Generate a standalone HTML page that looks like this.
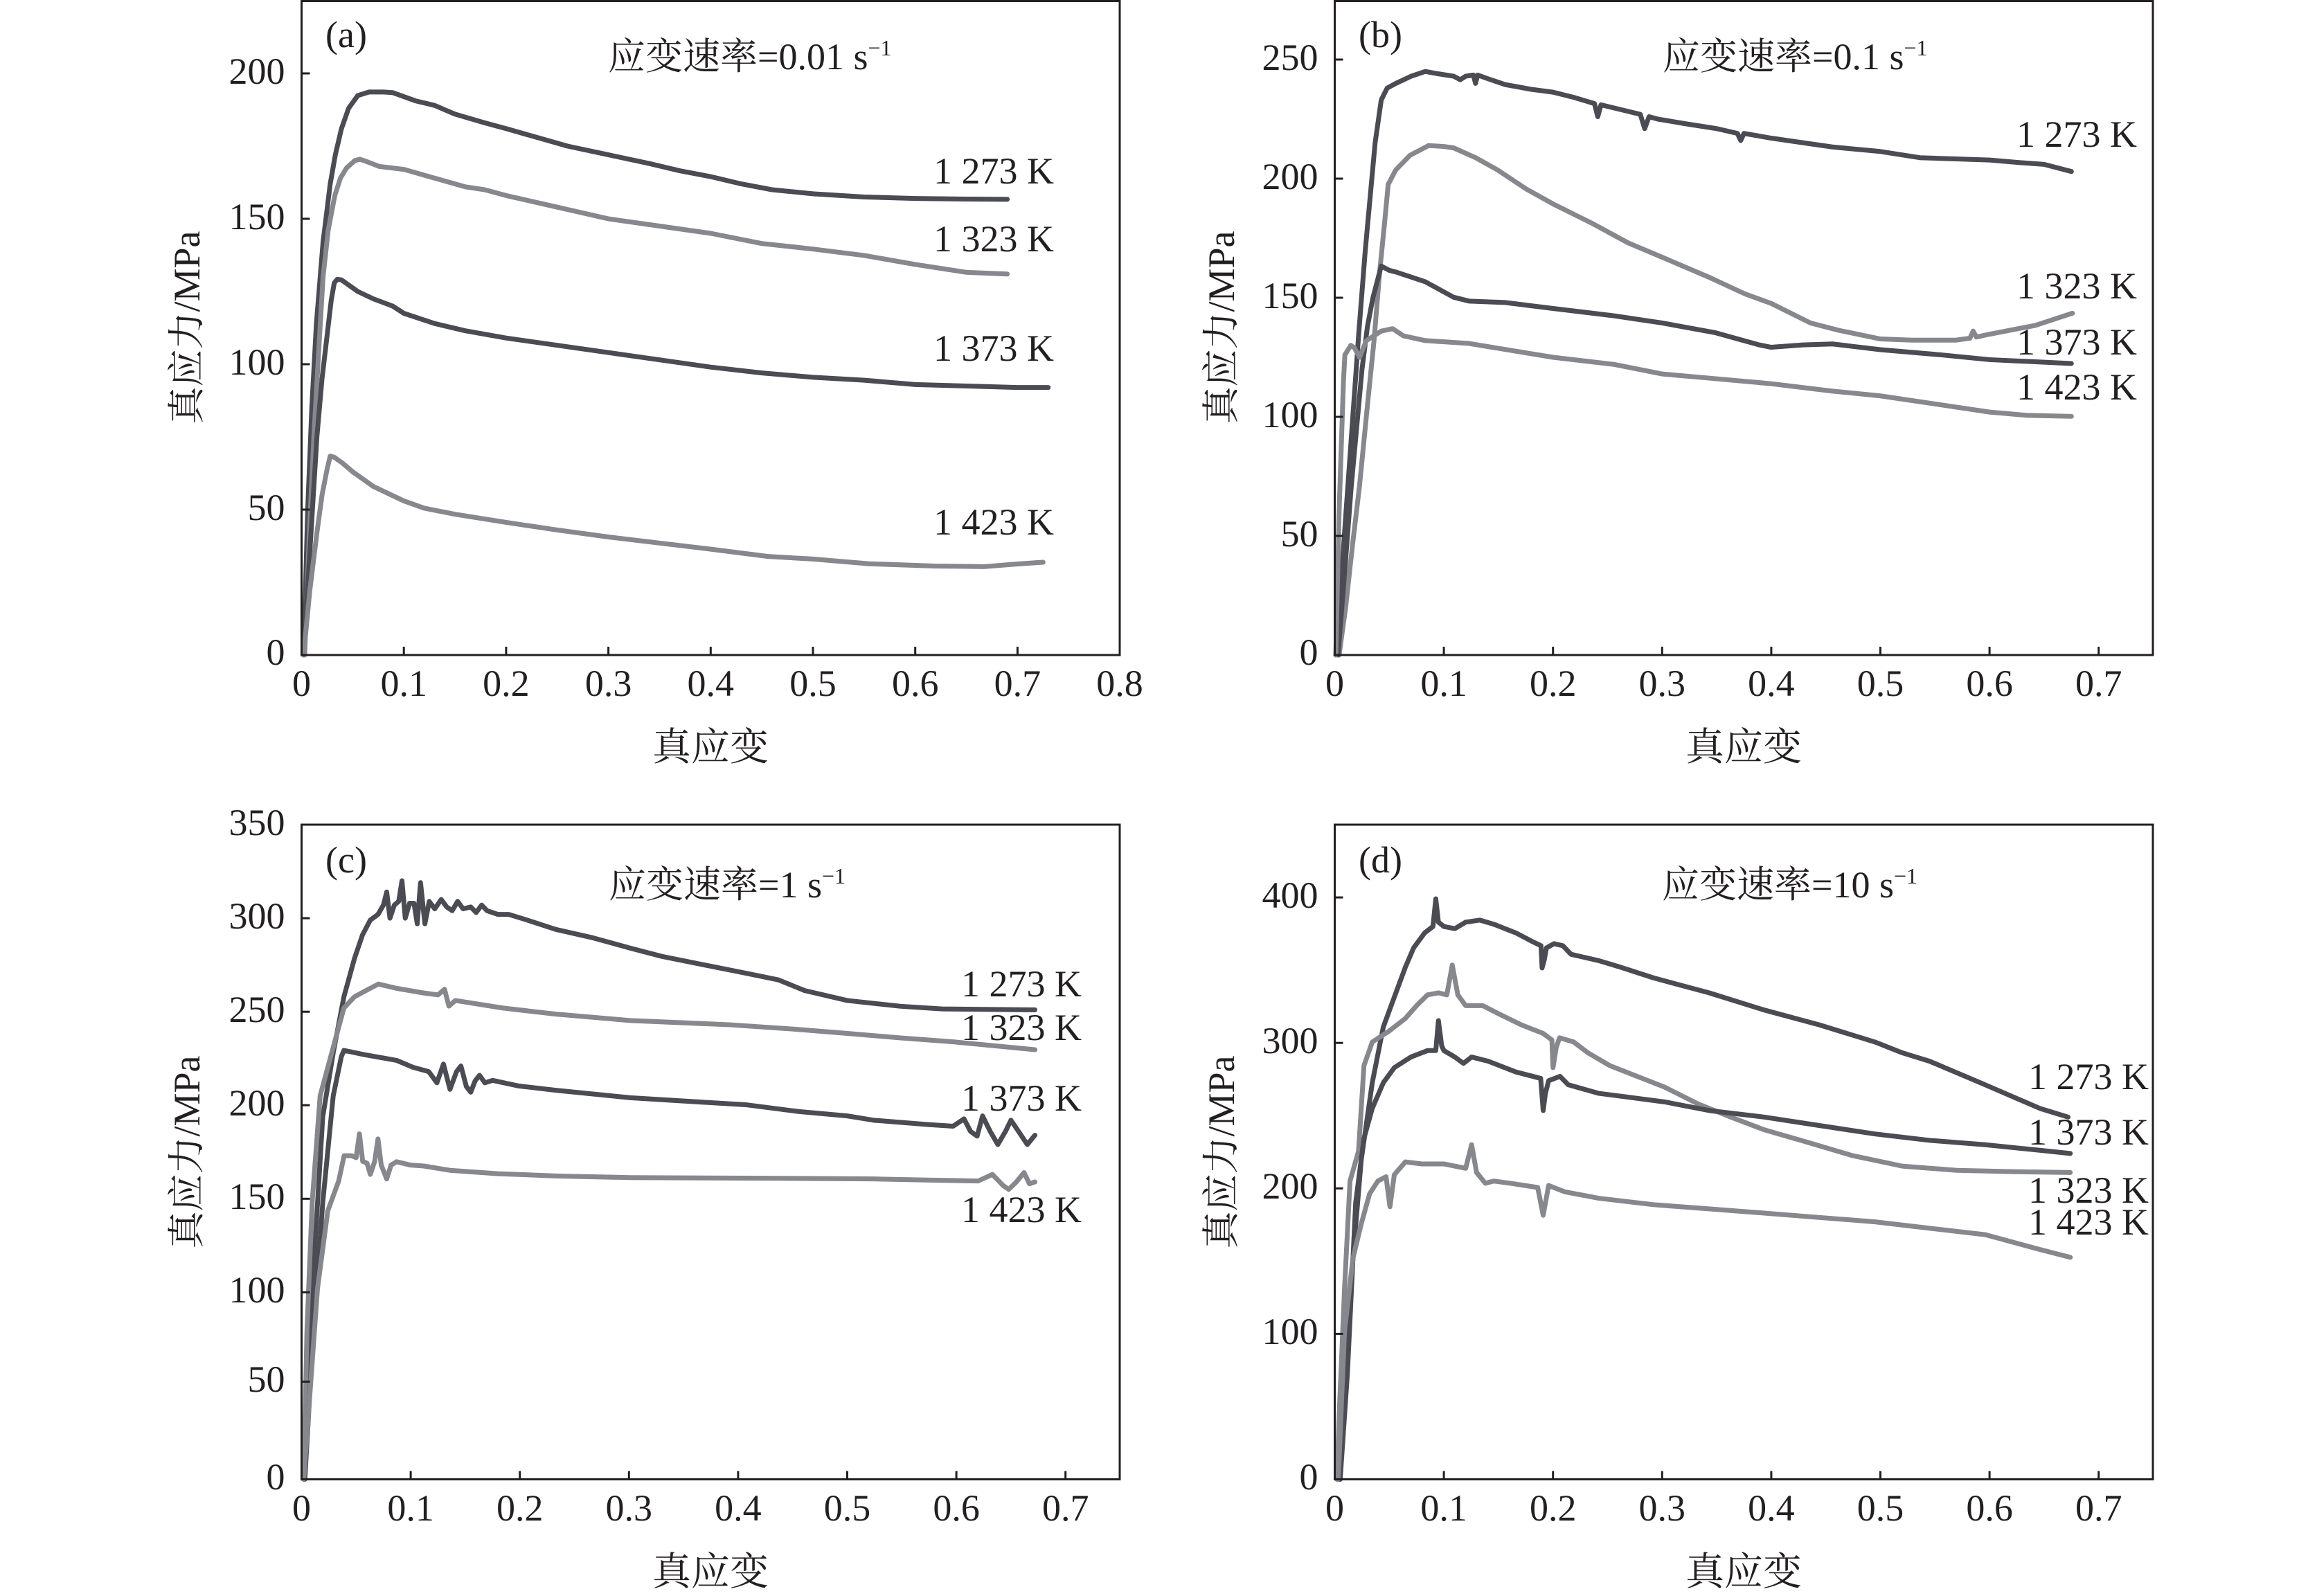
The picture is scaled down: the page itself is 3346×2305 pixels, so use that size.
<!DOCTYPE html>
<html>
<head>
<meta charset="utf-8">
<style>
  html, body { margin: 0; padding: 0; background: #ffffff; }
  svg { display: block; }
  text { font-family: "Liberation Serif", "Noto Serif CJK SC", serif; fill: #231f20; }
  .tk { font-size: 54px; }
  .ax { stroke: #231f20; stroke-width: 3; fill: none; }
  .tick { stroke: #231f20; stroke-width: 3; }
  .dk { fill: none; stroke: #4b4b53; stroke-width: 7; stroke-linejoin: round; stroke-linecap: round; vector-effect: non-scaling-stroke; }
  .lt { fill: none; stroke: #86888d; stroke-width: 7; stroke-linejoin: round; stroke-linecap: round; vector-effect: non-scaling-stroke; }
</style>
</head>
<body>
<svg width="3346" height="2305" viewBox="0 0 3346 2305" xmlns="http://www.w3.org/2000/svg">
<rect x="0" y="0" width="3346" height="2305" fill="#ffffff"/>

<!-- ================= PANEL (a) ================= -->
<g transform="translate(435.5,946) scale(1477,-4.2)">
  <polyline class="dk" points="0.002,0 0.006,50 0.010,85 0.0145,114 0.021,142 0.028,162 0.033,172 0.039,181 0.046,188 0.055,192.4 0.066,193.6 0.08,193.6 0.089,193.4 0.1,192 0.112,190.5 0.13,189 0.15,186 0.179,183 0.2,181 0.23,178 0.26,175 0.3,172 0.34,169 0.37,166.5 0.4,164.5 0.43,162 0.46,160 0.5,158.6 0.55,157.5 0.6,157 0.65,156.8 0.69,156.7"/>
  <polyline class="lt" points="0.003,0 0.008,45 0.012,75 0.017,106 0.021,130 0.026,146 0.0325,158 0.038,164 0.044,167.5 0.052,170 0.057,170.5 0.065,169.5 0.076,168 0.1,167 0.13,164 0.16,161 0.179,160 0.2,158 0.25,154 0.3,150 0.35,147.5 0.4,145 0.45,141.5 0.5,139.6 0.55,137.4 0.6,134.3 0.65,131.6 0.69,131"/>
  <polyline class="dk" points="0.002,0 0.008,35 0.015,75 0.02,95 0.025,110 0.029,122 0.032,128 0.035,129.2 0.039,129 0.047,127 0.055,125 0.07,122.5 0.089,120 0.1,117.5 0.13,114 0.16,111.5 0.2,109 0.25,106.5 0.3,104 0.35,101.5 0.4,99 0.45,97 0.5,95.5 0.55,94.5 0.6,93 0.65,92.5 0.7,92 0.73,92"/>
  <polyline class="lt" points="0.002,0 0.008,22 0.015,42 0.02,55 0.025,64 0.028,68.4 0.032,68 0.04,66 0.05,63 0.07,58 0.1,53 0.12,50.5 0.15,48.4 0.2,45.6 0.25,43 0.3,40.6 0.35,38.5 0.4,36.4 0.456,33.9 0.5,33 0.554,31.4 0.619,30.6 0.668,30.4 0.7,31.3 0.725,31.9"/>
</g>
<rect class="ax" x="435.5" y="1.5" width="1181.5" height="944.5"/>
<line class="tick" x1="583.2" y1="946" x2="583.2" y2="934"/>
<line class="tick" x1="730.9" y1="946" x2="730.9" y2="934"/>
<line class="tick" x1="878.6" y1="946" x2="878.6" y2="934"/>
<line class="tick" x1="1026.3" y1="946" x2="1026.3" y2="934"/>
<line class="tick" x1="1174" y1="946" x2="1174" y2="934"/>
<line class="tick" x1="1321.7" y1="946" x2="1321.7" y2="934"/>
<line class="tick" x1="1469.4" y1="946" x2="1469.4" y2="934"/>
<line class="tick" x1="435.5" y1="736" x2="447.5" y2="736"/>
<line class="tick" x1="435.5" y1="526" x2="447.5" y2="526"/>
<line class="tick" x1="435.5" y1="316" x2="447.5" y2="316"/>
<line class="tick" x1="435.5" y1="106" x2="447.5" y2="106"/>
<g class="tk" text-anchor="end">
  <text x="411.5" y="960">0</text>
  <text x="411.5" y="751">50</text>
  <text x="411.5" y="541">100</text>
  <text x="411.5" y="331">150</text>
  <text x="411.5" y="121">200</text>
</g>
<g class="tk" text-anchor="middle">
  <text x="435.5" y="1005">0</text>
  <text x="583.2" y="1005">0.1</text>
  <text x="730.9" y="1005">0.2</text>
  <text x="878.6" y="1005">0.3</text>
  <text x="1026.3" y="1005">0.4</text>
  <text x="1174" y="1005">0.5</text>
  <text x="1321.7" y="1005">0.6</text>
  <text x="1469.4" y="1005">0.7</text>
  <text x="1617" y="1005">0.8</text>
</g>
<text class="tk" x="470" y="68">(a)</text>
<text class="tk" x="878" y="100">应变速率=0.01 s<tspan font-size="32" dy="-20">−1</tspan></text>
<g class="tk">
  <text x="1348" y="265">1 273 K</text>
  <text x="1348" y="363">1 323 K</text>
  <text x="1348" y="521">1 373 K</text>
  <text x="1348" y="772">1 423 K</text>
</g>
<text class="tk" transform="translate(288,473) rotate(-90)" text-anchor="middle">真应力/MPa</text>
<text x="1026" y="1098" font-size="56" text-anchor="middle">真应变</text>

<!-- ================= PANEL (b) ================= -->
<g transform="translate(1927.5,946) scale(1576,-3.44)">
  <polyline class="dk" points="0.001,0 0.008,45 0.015,90 0.022,135 0.028,170 0.0326,193 0.037,215 0.0426,233 0.048,238 0.056,240 0.07,243 0.083,245 0.095,244 0.109,243 0.115,241.5 0.12,243 0.127,243.5 0.129,240 0.131,243.5 0.14,242 0.156,239.5 0.18,237.5 0.2,236.3 0.22,234 0.238,231.5 0.241,226 0.244,231 0.262,229 0.28,227 0.284,221 0.288,226 0.296,225 0.322,223 0.35,221 0.369,219 0.372,216 0.375,219 0.4,217 0.43,215 0.456,213.3 0.5,211.4 0.536,208.8 0.6,207.8 0.629,206.7 0.65,206 0.675,203"/>
  <polyline class="lt" points="0.004,0 0.01,20 0.016,45 0.0227,71 0.03,105 0.036,132 0.041,160 0.046,183 0.049,197.6 0.056,203.7 0.069,209.8 0.086,213.9 0.1,213.5 0.109,212.9 0.129,208.8 0.149,203.7 0.176,195.5 0.2,189.4 0.236,181.2 0.269,173 0.3,167 0.342,158.8 0.376,151.6 0.4,147.6 0.436,139.4 0.462,136.3 0.5,132.7 0.529,132.2 0.569,132.2 0.582,133 0.585,136 0.588,133.5 0.6,134.7 0.642,138.4 0.676,143.5"/>
  <polyline class="dk" points="0.003,0 0.01,40 0.015,70 0.02,95 0.025,120 0.03,138 0.035,150 0.0426,163.3 0.05,161.5 0.056,160.8 0.083,156.7 0.109,150.2 0.123,148.6 0.156,148 0.2,145.5 0.256,142.4 0.3,139.4 0.349,135.3 0.389,130.2 0.4,129.2 0.429,130.2 0.456,130.6 0.5,128.2 0.556,126 0.6,124 0.675,122.4"/>
  <polyline class="lt" points="0.001,0 0.004,60 0.008,115 0.0093,126 0.0147,130 0.018,129 0.0227,125 0.029,132 0.0426,136 0.053,137 0.063,134 0.083,132 0.123,130.8 0.2,125 0.256,122 0.3,118 0.342,116.3 0.4,113.9 0.456,110.8 0.5,108.8 0.556,105 0.6,102 0.635,100.6 0.675,100.2"/>
</g>
<rect class="ax" x="1927.5" y="1.5" width="1181.5" height="944.5"/>
<line class="tick" x1="2085.1" y1="946" x2="2085.1" y2="934"/>
<line class="tick" x1="2242.7" y1="946" x2="2242.7" y2="934"/>
<line class="tick" x1="2400.3" y1="946" x2="2400.3" y2="934"/>
<line class="tick" x1="2557.9" y1="946" x2="2557.9" y2="934"/>
<line class="tick" x1="2715.5" y1="946" x2="2715.5" y2="934"/>
<line class="tick" x1="2873.1" y1="946" x2="2873.1" y2="934"/>
<line class="tick" x1="3030.7" y1="946" x2="3030.7" y2="934"/>
<line class="tick" x1="1927.5" y1="774" x2="1939.5" y2="774"/>
<line class="tick" x1="1927.5" y1="602" x2="1939.5" y2="602"/>
<line class="tick" x1="1927.5" y1="430" x2="1939.5" y2="430"/>
<line class="tick" x1="1927.5" y1="258" x2="1939.5" y2="258"/>
<line class="tick" x1="1927.5" y1="86" x2="1939.5" y2="86"/>
<g class="tk" text-anchor="end">
  <text x="1903.5" y="960">0</text>
  <text x="1903.5" y="789">50</text>
  <text x="1903.5" y="617">100</text>
  <text x="1903.5" y="445">150</text>
  <text x="1903.5" y="273">200</text>
  <text x="1903.5" y="101">250</text>
</g>
<g class="tk" text-anchor="middle">
  <text x="1927.5" y="1005">0</text>
  <text x="2085.1" y="1005">0.1</text>
  <text x="2242.7" y="1005">0.2</text>
  <text x="2400.3" y="1005">0.3</text>
  <text x="2557.9" y="1005">0.4</text>
  <text x="2715.5" y="1005">0.5</text>
  <text x="2873.1" y="1005">0.6</text>
  <text x="3030.7" y="1005">0.7</text>
</g>
<text class="tk" x="1962" y="68">(b)</text>
<text class="tk" x="2401" y="100">应变速率=0.1 s<tspan font-size="32" dy="-20">−1</tspan></text>
<g class="tk">
  <text x="2912" y="212">1 273 K</text>
  <text x="2912" y="431">1 323 K</text>
  <text x="2912" y="512">1 373 K</text>
  <text x="2912" y="577">1 423 K</text>
</g>
<text class="tk" transform="translate(1782,473) rotate(-90)" text-anchor="middle">真应力/MPa</text>
<text x="2518" y="1098" font-size="56" text-anchor="middle">真应变</text>

<!-- ================= PANEL (c) ================= -->
<g transform="translate(435.5,2136.5) scale(1576,-2.7014)">
  <polyline class="dk" points="0.002,0 0.0097,100 0.0194,193.8 0.029,228 0.0388,258 0.0485,278.5 0.0558,291 0.063,299 0.07,302 0.075,307 0.078,314 0.081,300 0.085,307 0.089,309 0.092,320 0.095,300 0.099,308 0.103,308 0.106,297 0.109,319 0.113,297 0.117,309 0.122,305 0.128,310 0.133,306 0.138,304 0.143,309 0.148,305 0.155,306 0.16,303 0.165,307 0.17,304 0.18,302 0.19,302 0.204,299.5 0.233,294 0.267,289.5 0.301,284 0.33,279.6 0.369,275 0.408,270.5 0.437,267 0.461,261.3 0.5,256 0.549,252.9 0.587,251.5 0.672,251"/>
  <polyline class="lt" points="0.002,0 0.0049,79 0.0097,148 0.017,205 0.0267,226 0.0388,252 0.0485,258 0.058,261 0.0704,264.8 0.087,262.5 0.112,260 0.125,259 0.131,262 0.135,253 0.141,256 0.184,252 0.233,248.7 0.301,245.3 0.393,243 0.451,240.7 0.5,238.4 0.549,236 0.597,233.9 0.672,229.7"/>
  <polyline class="dk" points="0.003,0 0.0097,68 0.0194,148 0.029,205 0.0364,225.9 0.0388,229.3 0.058,227 0.087,224 0.102,220.3 0.1165,218 0.124,212 0.13,222 0.136,208.5 0.142,218 0.146,221 0.151,210 0.155,207 0.159,213 0.163,216 0.168,212 0.175,213.3 0.199,210.3 0.233,208 0.301,204 0.408,200.2 0.456,196.6 0.5,194.3 0.524,192 0.573,189.7 0.597,188.8 0.607,192.7 0.613,186 0.619,183.5 0.624,194.3 0.631,186 0.638,179 0.645,186 0.65,192 0.657,186 0.665,179 0.672,184"/>
  <polyline class="lt" points="0.002,0 0.0146,102 0.024,143.5 0.034,159.5 0.039,173 0.046,173 0.05,172 0.053,184.7 0.056,170 0.06,169 0.063,163 0.067,170 0.07,182 0.073,168 0.078,160.6 0.082,168 0.087,169.8 0.1,168 0.112,167.5 0.136,165.2 0.18,163.4 0.233,162.2 0.301,161.3 0.427,161 0.524,160.6 0.573,160 0.62,159.5 0.633,163 0.643,157 0.648,155 0.655,159 0.662,164 0.667,158 0.672,159"/>
</g>
<rect class="ax" x="435.5" y="1191" width="1181.5" height="945.5"/>
<line class="tick" x1="593.1" y1="2136.5" x2="593.1" y2="2124.5"/>
<line class="tick" x1="750.7" y1="2136.5" x2="750.7" y2="2124.5"/>
<line class="tick" x1="908.3" y1="2136.5" x2="908.3" y2="2124.5"/>
<line class="tick" x1="1065.9" y1="2136.5" x2="1065.9" y2="2124.5"/>
<line class="tick" x1="1223.5" y1="2136.5" x2="1223.5" y2="2124.5"/>
<line class="tick" x1="1381.1" y1="2136.5" x2="1381.1" y2="2124.5"/>
<line class="tick" x1="1538.7" y1="2136.5" x2="1538.7" y2="2124.5"/>
<line class="tick" x1="435.5" y1="1995.4" x2="447.5" y2="1995.4"/>
<line class="tick" x1="435.5" y1="1866.4" x2="447.5" y2="1866.4"/>
<line class="tick" x1="435.5" y1="1731.3" x2="447.5" y2="1731.3"/>
<line class="tick" x1="435.5" y1="1596.2" x2="447.5" y2="1596.2"/>
<line class="tick" x1="435.5" y1="1461.2" x2="447.5" y2="1461.2"/>
<line class="tick" x1="435.5" y1="1326.1" x2="447.5" y2="1326.1"/>
<g class="tk" text-anchor="end">
  <text x="411.5" y="2151">0</text>
  <text x="411.5" y="2010">50</text>
  <text x="411.5" y="1881">100</text>
  <text x="411.5" y="1746">150</text>
  <text x="411.5" y="1611">200</text>
  <text x="411.5" y="1476">250</text>
  <text x="411.5" y="1341">300</text>
  <text x="411.5" y="1206">350</text>
</g>
<g class="tk" text-anchor="middle">
  <text x="435.5" y="2196">0</text>
  <text x="593.1" y="2196">0.1</text>
  <text x="750.7" y="2196">0.2</text>
  <text x="908.3" y="2196">0.3</text>
  <text x="1065.9" y="2196">0.4</text>
  <text x="1223.5" y="2196">0.5</text>
  <text x="1381.1" y="2196">0.6</text>
  <text x="1538.7" y="2196">0.7</text>
</g>
<text class="tk" x="470" y="1260">(c)</text>
<text class="tk" x="879" y="1296">应变速率=1 s<tspan font-size="32" dy="-20">−1</tspan></text>
<g class="tk">
  <text x="1388" y="1439">1 273 K</text>
  <text x="1388" y="1502">1 323 K</text>
  <text x="1388" y="1604">1 373 K</text>
  <text x="1388" y="1765">1 423 K</text>
</g>
<text class="tk" transform="translate(288,1664) rotate(-90)" text-anchor="middle">真应力/MPa</text>
<text x="1026" y="2289" font-size="56" text-anchor="middle">真应变</text>

<!-- ================= PANEL (d) ================= -->
<g transform="translate(1927.5,2136.5) scale(1576,-2.1011)">
  <polyline class="dk" points="0.004,0 0.0091,55 0.0167,152 0.0243,219.7 0.0344,272.6 0.0445,310.9 0.0546,331.5 0.0647,352 0.0723,365.3 0.0824,375.6 0.09,380 0.0926,399 0.095,383 0.1,380 0.11,378.5 0.12,383 0.133,384.4 0.146,381.5 0.166,375.6 0.181,369.7 0.189,366.8 0.19,351.5 0.192,357 0.194,365.3 0.201,368.2 0.209,366.8 0.2165,360.9 0.242,356.5 0.262,352 0.292,344.7 0.343,334.4 0.3935,322.6 0.444,312.4 0.495,300.6 0.52,293.2 0.545,287.4 0.596,271.2 0.646,255 0.672,249"/>
  <polyline class="lt" points="0.002,0 0.004,43 0.009,131.5 0.014,205 0.0218,225.6 0.0268,284.4 0.0344,300.6 0.0496,308 0.0647,316.8 0.075,325.6 0.085,333 0.095,334.4 0.1027,333 0.1077,353.5 0.1128,333 0.12,325.6 0.1356,325.6 0.151,319.7 0.171,312.4 0.191,306.5 0.199,302 0.2,283 0.203,297 0.206,303.5 0.219,300.6 0.232,293.2 0.252,284.4 0.272,278.5 0.302,269.7 0.333,258 0.363,249 0.3935,240.3 0.434,231.5 0.474,222.6 0.52,215.3 0.57,212.4 0.621,211.5 0.674,210.9"/>
  <polyline class="dk" points="0.005,0 0.0116,72.6 0.0192,190.3 0.0268,234.4 0.0344,255 0.0445,272.6 0.0546,283 0.0698,290.3 0.085,294.7 0.0926,294.7 0.095,315.3 0.098,298 0.1,294.7 0.11,290.3 0.118,285.9 0.1254,290.3 0.1406,287.4 0.166,280 0.1887,275.6 0.191,253.5 0.193,265 0.196,274 0.2064,277 0.214,271.2 0.242,265.3 0.272,262.4 0.3025,259.4 0.343,253.5 0.3935,249 0.444,243.2 0.495,237.4 0.545,233 0.596,230 0.646,226.2 0.674,224"/>
  <polyline class="lt" points="0.003,0 0.004,13.8 0.009,102 0.0167,152 0.0243,175.6 0.0319,196.2 0.0395,205 0.047,208 0.0506,187.4 0.0546,209.4 0.0647,218.2 0.08,216.8 0.1,216.8 0.12,213.8 0.1254,230 0.13,210.9 0.138,203.5 0.1457,205 0.161,203.5 0.186,200.6 0.191,181.5 0.196,202 0.211,197.6 0.242,193.2 0.292,188.8 0.343,185.9 0.3935,183 0.444,180 0.495,177 0.545,172.6 0.596,168.2 0.646,158 0.674,152.6"/>
</g>
<rect class="ax" x="1927.5" y="1191" width="1181.5" height="945.5"/>
<line class="tick" x1="2085.1" y1="2136.5" x2="2085.1" y2="2124.5"/>
<line class="tick" x1="2242.7" y1="2136.5" x2="2242.7" y2="2124.5"/>
<line class="tick" x1="2400.3" y1="2136.5" x2="2400.3" y2="2124.5"/>
<line class="tick" x1="2557.9" y1="2136.5" x2="2557.9" y2="2124.5"/>
<line class="tick" x1="2715.5" y1="2136.5" x2="2715.5" y2="2124.5"/>
<line class="tick" x1="2873.1" y1="2136.5" x2="2873.1" y2="2124.5"/>
<line class="tick" x1="3030.7" y1="2136.5" x2="3030.7" y2="2124.5"/>
<line class="tick" x1="1927.5" y1="1926.4" x2="1939.5" y2="1926.4"/>
<line class="tick" x1="1927.5" y1="1716.3" x2="1939.5" y2="1716.3"/>
<line class="tick" x1="1927.5" y1="1506.2" x2="1939.5" y2="1506.2"/>
<line class="tick" x1="1927.5" y1="1296.1" x2="1939.5" y2="1296.1"/>
<g class="tk" text-anchor="end">
  <text x="1903.5" y="2151">0</text>
  <text x="1903.5" y="1941">100</text>
  <text x="1903.5" y="1731">200</text>
  <text x="1903.5" y="1521">300</text>
  <text x="1903.5" y="1311">400</text>
</g>
<g class="tk" text-anchor="middle">
  <text x="1927.5" y="2196">0</text>
  <text x="2085.1" y="2196">0.1</text>
  <text x="2242.7" y="2196">0.2</text>
  <text x="2400.3" y="2196">0.3</text>
  <text x="2557.9" y="2196">0.4</text>
  <text x="2715.5" y="2196">0.5</text>
  <text x="2873.1" y="2196">0.6</text>
  <text x="3030.7" y="2196">0.7</text>
</g>
<text class="tk" x="1962" y="1260">(d)</text>
<text class="tk" x="2400" y="1296">应变速率=10 s<tspan font-size="32" dy="-20">−1</tspan></text>
<g class="tk">
  <text x="2929" y="1573">1 273 K</text>
  <text x="2929" y="1653">1 373 K</text>
  <text x="2929" y="1737">1 323 K</text>
  <text x="2929" y="1783">1 423 K</text>
</g>
<text class="tk" transform="translate(1782,1664) rotate(-90)" text-anchor="middle">真应力/MPa</text>
<text x="2518" y="2289" font-size="56" text-anchor="middle">真应变</text>

</svg>
</body>
</html>
